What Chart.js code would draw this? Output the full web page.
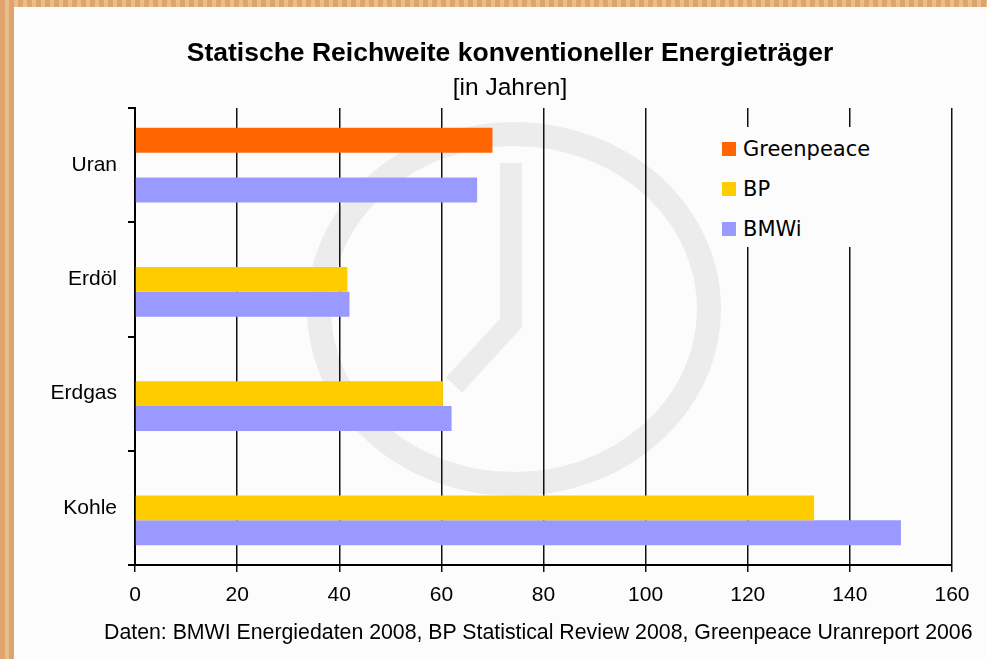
<!DOCTYPE html>
<html>
<head>
<meta charset="utf-8">
<script src="https://cdn.jsdelivr.net/npm/chart.js@4.4.1/dist/chart.umd.min.js"></script>
<style>
  html, body { margin: 0; padding: 0; }
  body {
    width: 987px; height: 659px; overflow: hidden; position: relative;
    background: repeating-linear-gradient(90deg, #dea46b 0px, #dea46b 5px, #e9bd8c 5px, #e9bd8c 9px);
    font-family: "Liberation Sans", Arial, sans-serif;
  }
  #panel { position: absolute; left: 14px; top: 7px; width: 973px; height: 652px; background: #fcfcfc; }
  #chart { position: absolute; left: 0; top: 0; }
  .txt { position: absolute; color: #000; white-space: nowrap; line-height: 1; }
  #title { left: 110px; width: 800px; top: 39px; text-align: center; font-weight: bold; font-size: 26.5px; }
  #subtitle { left: 310px; width: 400px; top: 75px; text-align: center; font-size: 24.5px; }
  #footer { left: 104px; top: 622px; font-size: 21.3px; }
  #legend { position: absolute; left: 712px; top: 127px; width: 190px; height: 120px; background: #fcfcfc; }
  .row { position: absolute; left: 10px; height: 24px; display: flex; align-items: center;
         font-family: "DejaVu Sans", sans-serif; font-size: 21px; color: #000; }
  .box { width: 14px; height: 14px; margin-right: 7px; }
</style>
</head>
<body>
<div id="panel"><canvas id="chart" width="973" height="652"></canvas></div>
<div class="txt" id="title">Statische Reichweite konventioneller Energieträger</div>
<div class="txt" id="subtitle">[in Jahren]</div>
<div id="legend"></div>
<div class="txt" id="footer">Daten: BMWI Energiedaten 2008, BP Statistical Review 2008, Greenpeace Uranreport 2006</div>
<script>
// Daten (Jahre)
const kategorien = ['Uran', 'Erdöl', 'Erdgas', 'Kohle'];
const serienNamen = ['Greenpeace', 'BP', 'BMWi'];
const serienFarben = ['#ff6600', '#ffcc00', '#9999ff'];
const greenpeace = [70, null, null, null];
const bp = [null, 41.6, 60.3, 133];
const bmwi = [67, 42, 62, 150];
const xTicks = [0, 20, 40, 60, 80, 100, 120, 140, 160];

// Legende als HTML
const legendDiv = document.getElementById('legend');
serienNamen.forEach((name, i) => {
    const row = document.createElement('div');
    row.className = 'row';
    row.style.top = (10 + i * 40) + 'px';
    row.innerHTML = `<span class="box" style="background:${serienFarben[i]}"></span>${name}`;
    legendDiv.appendChild(row);
});

// Uhr-Wasserzeichen im Hintergrund
const wasserzeichen = {
    id: 'wasserzeichen',
    beforeDraw(chart) {
        const ctx = chart.ctx;
        ctx.save();
        ctx.strokeStyle = '#ececec';
        ctx.lineWidth = 24;
        ctx.beginPath();
        ctx.ellipse(500, 302, 195, 175, 0, 0, Math.PI * 2);
        ctx.stroke();
        ctx.lineWidth = 22;
        ctx.lineJoin = 'miter';
        ctx.beginPath();
        ctx.moveTo(497, 156);
        ctx.lineTo(497, 316);
        ctx.lineTo(440, 378);
        ctx.stroke();
        ctx.restore();
    }
};

const tickFont = { family: '"Liberation Sans", Arial, sans-serif', size: 21 };

new Chart(document.getElementById('chart').getContext('2d'), {
    type: 'bar',
    data: {
        labels: kategorien,
        datasets: [
            { label: serienNamen[0], data: greenpeace, backgroundColor: serienFarben[0] },
            { label: serienNamen[1], data: bp, backgroundColor: serienFarben[1] },
            { label: serienNamen[2], data: bmwi, backgroundColor: serienFarben[2] }
        ]
    },
    options: {
        indexAxis: 'y',
        responsive: false,
        animation: false,
        devicePixelRatio: 1,
        categoryPercentage: 0.655,
        barPercentage: 1.0,
        layout: { padding: { top: 101, right: 35, left: 0, bottom: 0 } },
        plugins: {
            legend: { display: false },
            title: { display: false },
            tooltip: { enabled: false }
        },
        scales: {
            x: {
                min: 0,
                max: 160,
                afterBuildTicks: scale => { scale.ticks = xTicks.map(v => ({ value: v })); },
                afterFit: scale => { scale.height = 94; },
                ticks: { font: tickFont, color: '#000', padding: 11 },
                grid: { color: '#111', lineWidth: 1.5, tickLength: 7 },
                border: { display: true, color: '#000', width: 2 }
            },
            y: {
                afterFit: scale => { scale.width = 121; },
                ticks: { font: tickFont, color: '#000', padding: 11 },
                grid: { offset: true, drawOnChartArea: false, color: '#000', lineWidth: 2, tickLength: 7 },
                border: { display: true, color: '#000', width: 2 }
            }
        }
    },
    plugins: [wasserzeichen]
});
</script>
</body>
</html>
